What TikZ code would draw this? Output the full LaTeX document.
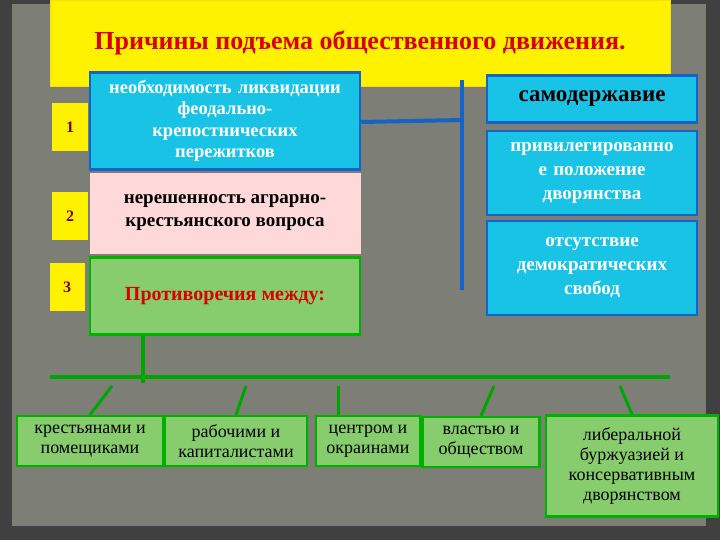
\documentclass[tikz,border=0pt]{standalone}
\usepackage{fontspec}
\setmainfont{Liberation Serif}
\begin{document}
\begin{tikzpicture}[x=1pt,y=-1pt,
 cy/.style={draw=lineblue,line width=2.5pt,fill=cyfill,text=white,font=\bfseries\fontsize{18}{22}\selectfont,align=center,inner sep=1pt},
 num/.style={fill=yellow,minimum width=36pt,minimum height=48pt,text=red!50!black,font=\bfseries\fontsize{16}{18}\selectfont},
 gb/.style={draw=green!70!black,line width=2.5pt,fill=gbfill,align=center,font=\fontsize{18}{20}\selectfont,inner sep=1pt},
 gl/.style={draw=green!65!black,line width=4pt},
 bl/.style={draw=lineblue,line width=4pt}]
\definecolor{gbfill}{RGB}{135,205,110}
\definecolor{cyfill}{RGB}{25,195,230}
\definecolor{lineblue}{RGB}{20,100,200}
\definecolor{paper}{RGB}{125,127,118}
\useasboundingbox (0,0) rectangle (720,540);
\fill[black!75] (0,0) rectangle (720,540);
\fill[paper] (12,4) rectangle (706,526);
\node[fill=yellow,draw=yellow!80!orange,minimum width=620pt,minimum height=86pt,text=red!85!black,font=\bfseries\fontsize{26}{30}\selectfont] (t) at (360,43) {Причины подъема общественного движения.};
\node[num] (n1) at (70,127) {1};
\node[num] (n2) at (70,216) {2};
\node[num,minimum width=35pt] (n3) at (67,287) {3};
\node[cy,minimum width=270pt,minimum height=97pt,text width=266pt,font=\bfseries\fontsize{18.5}{21.5}\selectfont] (b1) at (225,121) {необходимость ликвидации\\феодально-\\крепостнических\\пережитков};
\node[fill=pink!60!white,draw=pink!60!white,minimum width=270pt,minimum height=80pt,align=center,font=\bfseries\fontsize{19}{23}\selectfont] (b2) at (225,213) {нерешенность аграрно-\\крестьянского вопроса};
\node[gb,minimum width=270pt,minimum height=77pt,text=red!85!black,font=\bfseries\fontsize{20}{24}\selectfont] (b3) at (225,296) {Противоречия между:};
\coordinate (vt) at (462,80); \coordinate (vb) at (462,290);
\draw[bl] (vt) -- (vb);
\draw[bl] (b1.east |- 0,122) -- (462,120);
\node[cy,minimum width=210pt,minimum height=47pt,text=black,font=\bfseries\fontsize{23}{26}\selectfont] (r1) at (592,99) {самодержавие};
\node[cy,minimum width=210pt,minimum height=84pt,text width=208pt,font=\bfseries\fontsize{19}{24}\selectfont] (r2) at (592,173) {привилегированно\\е положение\\дворянства};
\node[cy,minimum width=210pt,minimum height=94pt,font=\bfseries\fontsize{19}{24}\selectfont] (r3) at (592,268) {отсутствие\\демократических\\свобод};
\coordinate (hl) at (50,377); \coordinate (hr) at (670,377);
\draw[gl] (hl) -- (hr);
\draw[gl] (b3.south -| 143,0) -- (143,383);
\node[gb,minimum width=146pt,minimum height=50pt] (c1) at (90,441) {крестьянами и\\помещиками};
\node[gb,minimum width=142pt,minimum height=50pt] (c2) at (236,441) {рабочими и\\капиталистами};
\node[gb,minimum width=104pt,minimum height=50pt] (c3) at (368,441) {центром и\\окраинами};
\node[gb,minimum width=117pt,minimum height=50pt] (c4) at (481,442) {властью и\\обществом};
\node[gb,minimum width=172pt,minimum height=101pt] (c5) at (632,466) {либеральной\\буржуазией и\\консервативным\\дворянством};
\draw[gl,line width=3pt] (112,386) -- (c1.north);
\draw[gl,line width=3pt] (246,386) -- (c2.north);
\draw[gl,line width=3pt] (338,386) -- (c3.north -| 338,0);
\draw[gl,line width=3pt] (494,386) -- (c4.north);
\draw[gl,line width=3pt] (620,386) -- (c5.north);
\end{tikzpicture}
\end{document}
